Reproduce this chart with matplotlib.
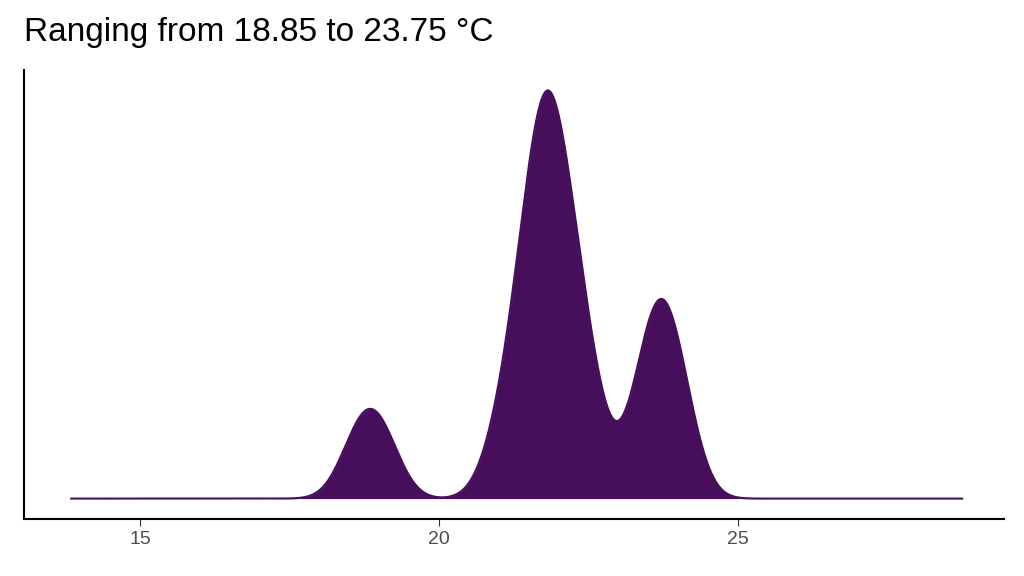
import numpy as np
import matplotlib
matplotlib.use("Agg")
import matplotlib.pyplot as plt

temps = [18.6, 18.85, 19.1,
         21.0, 21.25, 21.4, 21.5, 21.58, 21.65, 21.7, 21.75, 21.8, 21.85,
         21.9, 21.95, 22.02, 22.1, 22.2, 22.32, 22.45, 22.6,
         23.35, 23.5, 23.62, 23.72, 23.82, 23.94, 24.1]
x_range = [13.85, 28.75]
bandwidth = 0.33
title = "Ranging from 18.85 to 23.75 °C"
xticks = [15, 20, 25]

data = np.array(temps)
grid = np.linspace(x_range[0], x_range[1], 1500)
dens = np.exp(-0.5 * ((grid[:, None] - data[None, :]) / bandwidth) ** 2).sum(1)
dens /= (len(data) * bandwidth * np.sqrt(2 * np.pi))

plt.rcParams['font.family'] = ['Liberation Sans', 'DejaVu Sans']
fig = plt.figure(figsize=(10.24, 5.76), dpi=100)
ax = fig.add_axes([24/1024, 1-519/576, 980/1024, 449/576])
col = "#470E5C"
ax.fill_between(grid, 0, dens, color=col, lw=0)
ax.plot(grid, dens, color=col, lw=1.5)
m = dens.max()
ax.set_ylim(-0.05*m, 1.05*m)
ax.set_xlim(13.06, 29.45)
ax.set_yticks([])
ax.set_xticks(xticks)
ax.tick_params(axis='x', labelsize=14, labelcolor='#4d4d4d', color='#333333', length=5)
for s in ['top', 'right']:
    ax.spines[s].set_visible(False)
for s in ['left', 'bottom']:
    ax.spines[s].set_linewidth(1.5)
fig.text(24/1024, 1-33/576, title, fontsize=24, va='center', ha='left')
fig.savefig("out.png", dpi=100)
